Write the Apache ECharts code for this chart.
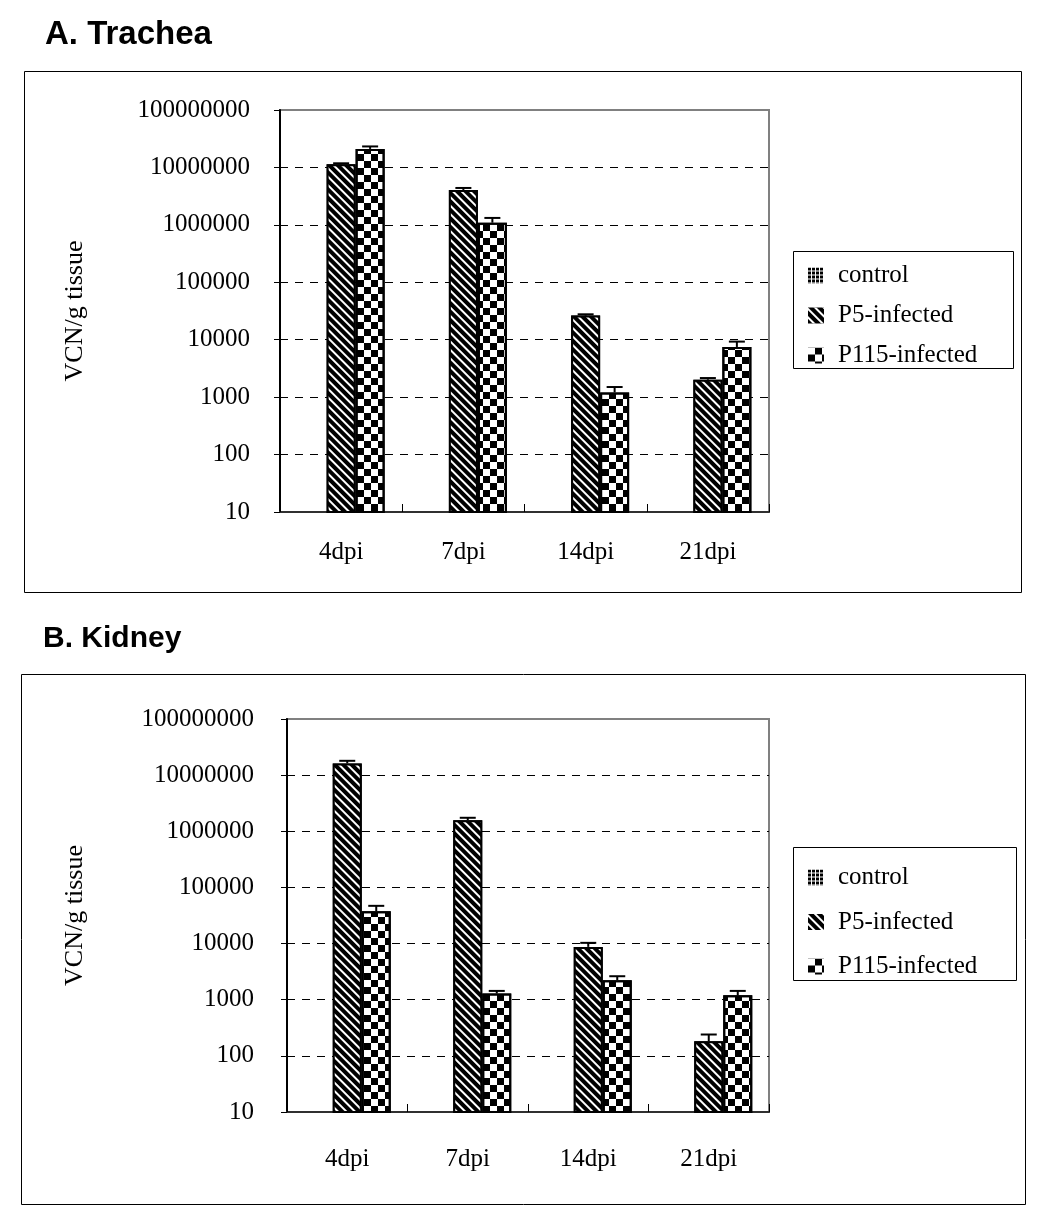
<!DOCTYPE html>
<html><head><meta charset="utf-8">
<script src="https://cdn.jsdelivr.net/npm/echarts@6/dist/echarts.min.js"></script>
<style>html,body{margin:0;padding:0;background:#fff}#c{width:1050px;height:1225px}</style>
</head><body><div id="c"></div>
<script>
const categories = ['4dpi', '7dpi', '14dpi', '21dpi'];
const seriesNames = ['control', 'P5-infected', 'P115-infected'];
const yTickLabels = ['10', '100', '1000', '10000', '100000', '1000000', '10000000', '100000000'];
const panelTitles = ['A. Trachea', 'B. Kidney'];
const yAxisTitle = 'VCN/g tissue';

const tracheaControl = [null, null, null, null];
const tracheaP5 = [11400000, 4050000, 26300, 2010];
const tracheaP5Err = [400000, 340000, 1400, 140];
const tracheaP115 = [21000000, 1090000, 1210, 7480];
const tracheaP115Err = [2200000, 230000, 290, 1790];

const kidneyControl = [null, null, null, null];
const kidneyP5 = [16200000, 1580000, 8730, 182];
const kidneyP5Err = [1800000, 160000, 1570, 58];
const kidneyP115 = [37800, 1290, 2220, 1203];
const kidneyP115Err = [9200, 145, 400, 232];

const BAR_W = 29;
const SERIF = "'Liberation Serif', 'Times New Roman', serif";
const SANS = "'Liberation Sans', Arial, sans-serif";

const decals = {
  control: { symbol: 'rect', symbolSize: 1, color: '#000', dashArrayX: [3, 1], dashArrayY: [3, 1] },
  p5: { symbol: 'rect', symbolSize: 1, color: '#fff', dashArrayX: [1, 0], dashArrayY: [1.6, 3.6], rotation: Math.PI / 4 },
  p115: { symbol: 'rect', symbolSize: 1, color: '#000', dashArrayX: [[7, 7], [0, 7, 7, 0]], dashArrayY: [7, 0] }
};

function errData(vals, errs, slot) {
  return vals.map((v, i) => [i, v, v + errs[i], slot]);
}

function renderErr(params, api) {
  const cat = api.value(0), v = api.value(1), hi = api.value(2), slot = api.value(3);
  const p0 = api.coord([cat, v]);
  const p1 = api.coord([cat, hi]);
  const x = p0[0] + (slot - 1) * BAR_W;
  return {
    type: 'group',
    children: [
      { type: 'line', shape: { x1: x, y1: p0[1], x2: x, y2: p1[1] }, style: { stroke: '#000', lineWidth: 2 } },
      { type: 'line', shape: { x1: x - 8, y1: p1[1], x2: x + 8, y2: p1[1] }, style: { stroke: '#000', lineWidth: 2 } }
    ]
  };
}

const panels = [
  { control: tracheaControl, p5: tracheaP5, p5e: tracheaP5Err, p115: tracheaP115, p115e: tracheaP115Err,
    grid: { left: 280, top: 110, width: 489, height: 402 }, labelMargin: 30, xMargin: 28, nameGap: 192,
    legendTop: 258, legendGap: 15 },
  { control: kidneyControl, p5: kidneyP5, p5e: kidneyP5Err, p115: kidneyP115, p115e: kidneyP115Err,
    grid: { left: 287, top: 719, width: 482, height: 393 }, labelMargin: 33, xMargin: 35, nameGap: 199,
    legendTop: 860, legendGap: 19.5 }
];

const option = {
  animation: false,
  backgroundColor: '#fff',
  title: [
    { text: panelTitles[0], left: 40, top: 13, textStyle: { fontFamily: SANS, fontWeight: 'bold', fontSize: 33, color: '#000' } },
    { text: panelTitles[1], left: 38, top: 619, textStyle: { fontFamily: SANS, fontWeight: 'bold', fontSize: 30, color: '#000' } }
  ],
  graphic: [
    { type: 'rect', shape: { x: 24.5, y: 71.5, width: 997, height: 521 }, style: { fill: 'none', stroke: '#000', lineWidth: 1 }, z: -1 },
    { type: 'rect', shape: { x: 21.5, y: 674.5, width: 1004, height: 530 }, style: { fill: 'none', stroke: '#000', lineWidth: 1 }, z: -1 },
    { type: 'rect', shape: { x: 793.5, y: 251.5, width: 220, height: 117 }, style: { fill: 'none', stroke: '#000', lineWidth: 1 } },
    { type: 'rect', shape: { x: 793.5, y: 847.5, width: 223, height: 133 }, style: { fill: 'none', stroke: '#000', lineWidth: 1 } }
  ],
  grid: panels.map(p => Object.assign({ show: true, borderColor: '#808080', borderWidth: 2, backgroundColor: 'transparent' }, p.grid)),
  xAxis: panels.map((p, i) => ({
    type: 'category', gridIndex: i, data: categories,
    axisLine: { show: true, lineStyle: { color: '#303030', width: 2 } },
    axisTick: { show: true, inside: true, length: 8, lineStyle: { color: '#000', width: 1 } },
    axisLabel: { margin: p.xMargin, fontFamily: SERIF, fontSize: 25, color: '#000' },
    splitLine: { show: false }
  })),
  yAxis: panels.map((p, i) => ({
    type: 'log', logBase: 10, gridIndex: i, min: 10, max: 100000000,
    name: yAxisTitle, nameLocation: 'middle', nameGap: p.nameGap, nameRotate: 90,
    nameTextStyle: { fontFamily: SERIF, fontSize: 26, color: '#000' },
    axisLine: { show: true, lineStyle: { color: '#000', width: 2 } },
    axisTick: { show: true, inside: false, length: 6, lineStyle: { color: '#000', width: 1 } },
    axisLabel: {
      margin: p.labelMargin, fontFamily: SERIF, fontSize: 25, color: '#000',
      formatter: v => yTickLabels[Math.round(Math.log10(v)) - 1]
    },
    splitLine: { show: true, showMinLine: false, showMaxLine: false, lineStyle: { color: '#000', width: 1, type: [8, 7] } }
  })),
  legend: panels.map((p, i) => ({
    data: seriesNames, orient: 'vertical', left: 803, top: p.legendTop,
    itemWidth: 16, itemHeight: 16, itemGap: p.legendGap, icon: 'rect',
    itemStyle: { borderWidth: 0 },
    textStyle: { fontFamily: SERIF, fontSize: 25, lineHeight: 25, color: '#000', padding: [0, 0, 0, 9] }
  })),
  series: []
};

panels.forEach((p, i) => {
  option.series.push(
    { name: seriesNames[0], type: 'bar', xAxisIndex: i, yAxisIndex: i, data: p.control, barWidth: BAR_W, barGap: '0%',
      itemStyle: { color: '#fff', borderColor: '#000', borderWidth: 2, decal: decals.control } },
    { name: seriesNames[1], type: 'bar', xAxisIndex: i, yAxisIndex: i, data: p.p5, barWidth: BAR_W, barGap: '0%',
      itemStyle: { color: '#000', borderColor: '#000', borderWidth: 2, decal: decals.p5 } },
    { name: seriesNames[2], type: 'bar', xAxisIndex: i, yAxisIndex: i, data: p.p115, barWidth: BAR_W, barGap: '0%',
      itemStyle: { color: '#fff', borderColor: '#000', borderWidth: 2, decal: decals.p115 } },
    { name: 'err', type: 'custom', xAxisIndex: i, yAxisIndex: i, renderItem: renderErr, clip: false, z: 5,
      encode: { x: 0, y: [1, 2] }, data: errData(p.p5, p.p5e, 1).concat(errData(p.p115, p.p115e, 2)) }
  );
});

const chart = echarts.init(document.getElementById('c'), null, { renderer: 'canvas' });
chart.setOption(option);
</script>
</body></html>
